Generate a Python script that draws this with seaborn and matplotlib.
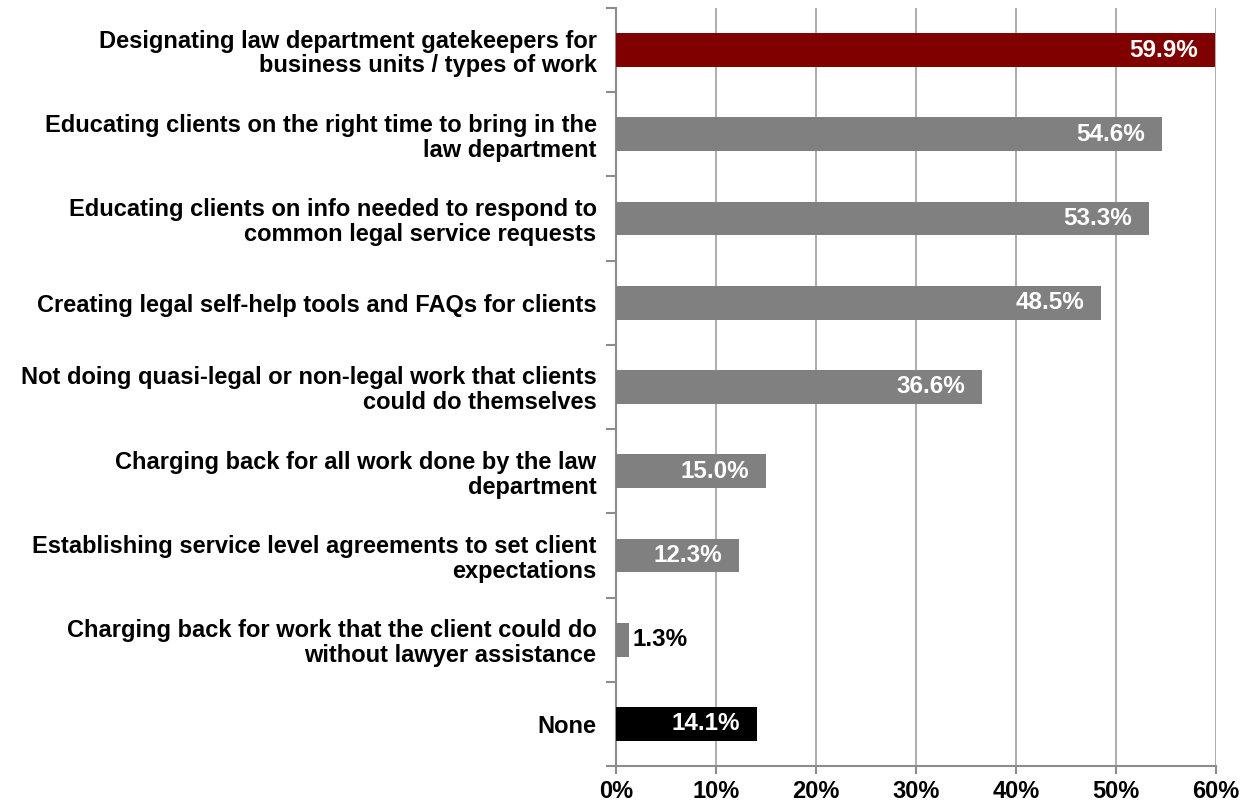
import matplotlib
matplotlib.use("Agg")
import matplotlib.pyplot as plt
import seaborn as sns
import pandas as pd
from matplotlib.ticker import MultipleLocator, FuncFormatter

categories = [
    "Designating law department gatekeepers for\nbusiness units / types of work",
    "Educating clients on the right time to bring in the\nlaw department",
    "Educating clients on info needed to respond to\ncommon legal service requests",
    "Creating legal self-help tools and FAQs for clients",
    "Not doing quasi-legal or non-legal work that clients\ncould do themselves",
    "Charging back for all work done by the law\ndepartment",
    "Establishing service level agreements to set client\nexpectations",
    "Charging back for work that the client could do\nwithout lawyer assistance",
    "None",
]
values = [59.9, 54.6, 53.3, 48.5, 36.6, 15.0, 12.3, 1.3, 14.1]
bar_colors = ["#800000"] + ["#808080"] * 7 + ["#000000"]

df = pd.DataFrame({"category": categories, "value": values})

sns.set_theme(style="white")
plt.rcParams["font.family"] = ["Liberation Sans", "DejaVu Sans"]

fig = plt.figure(figsize=(12.5, 8.07), dpi=100)
ax = fig.add_axes([616 / 1250, 1 - 766 / 807, 600 / 1250, 758 / 807])

sns.barplot(data=df, x="value", y="category", hue="category",
            palette=bar_colors, legend=False, width=0.4, ax=ax,
            saturation=1, linewidth=0, zorder=3)

ax.set_xlim(0, 60)
ax.set_ylim(len(categories) - 0.5, -0.5)
ax.xaxis.set_major_locator(MultipleLocator(10))
ax.xaxis.set_major_formatter(FuncFormatter(lambda v, p: f"{v:.0f}%"))
ax.grid(axis="x", color="#a0a0a0", linewidth=1.2, zorder=0)
ax.set_axisbelow(True)
ax.set_xlabel("")
ax.set_ylabel("")

for side in ["top", "right"]:
    ax.spines[side].set_visible(False)
for side in ["left", "bottom"]:
    ax.spines[side].set_color("#8c8c8c")
    ax.spines[side].set_linewidth(1.5)

# Category labels centred on bars; tick marks at band boundaries
ax.set_yticks(range(len(categories)))
ax.set_yticklabels(categories, fontsize=17, fontweight="bold", color="black",
                   linespacing=1.1)
ax.tick_params(axis="y", length=0, pad=14)
ax.set_yticks([i + 0.5 for i in range(-1, len(categories))], minor=True)
ax.tick_params(axis="y", which="minor", length=7, width=1.5, color="#8c8c8c", left=True)

ax.tick_params(axis="x", length=6, width=1.5, color="#8c8c8c", bottom=True,
               labelsize=17, labelcolor="black", pad=4)
for lbl in ax.get_xticklabels():
    lbl.set_fontweight("bold")

# Value labels
for i, v in enumerate(values):
    txt = f"{v:.1f}%"
    if v > 5:
        ax.text(v - 1.7, i, txt, ha="right", va="center", color="white",
                fontsize=17.5, fontweight="bold", zorder=4)
    else:
        ax.text(v + 0.35, i, txt, ha="left", va="center", color="black",
                fontsize=17.5, fontweight="bold", zorder=4)

fig.savefig("out.png", dpi=100)
